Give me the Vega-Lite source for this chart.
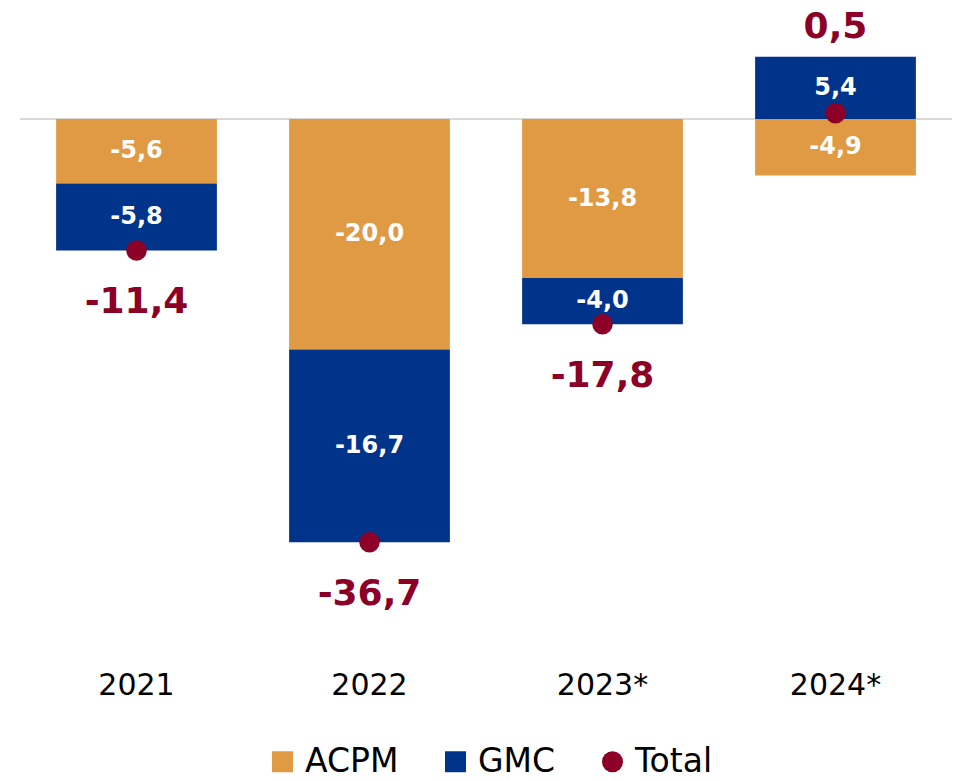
{
  "$schema": "https://vega.github.io/schema/vega-lite/v6.json",
  "width": 932,
  "height": 640,
  "autosize": {"type": "none"},
  "padding": {"left": 20, "top": 10, "right": 5, "bottom": 130},
  "background": "white",
  "config": {
    "view": {"stroke": null},
    "font": "DejaVu Sans",
    "locale": {"number": {"decimal": ",", "thousands": ".", "grouping": [3], "currency": ["", " €"], "minus": "-"}}
  },
  "datasets": {
    "parts": [
      {"year": "2021", "series": "ACPM", "value": -5.6},
      {"year": "2021", "series": "GMC", "value": -5.8},
      {"year": "2022", "series": "ACPM", "value": -20.0},
      {"year": "2022", "series": "GMC", "value": -16.7},
      {"year": "2023*", "series": "ACPM", "value": -13.8},
      {"year": "2023*", "series": "GMC", "value": -4.0},
      {"year": "2024*", "series": "ACPM", "value": -4.9},
      {"year": "2024*", "series": "GMC", "value": 5.4}
    ],
    "totals": [
      {"year": "2021", "series": "Total", "value": -11.4},
      {"year": "2022", "series": "Total", "value": -36.7},
      {"year": "2023*", "series": "Total", "value": -17.8},
      {"year": "2024*", "series": "Total", "value": 0.5}
    ]
  },
  "encoding": {
    "x": {
      "field": "year", "type": "nominal", "sort": ["2021", "2022", "2023*", "2024*"],
      "scale": {"paddingInner": 0.31, "paddingOuter": 0.155},
      "axis": {"title": null, "domain": false, "ticks": false, "labelAngle": 0, "labelFontSize": 30, "labelColor": "#000000", "labelPadding": 20, "labelFont": "DejaVu Sans"}
    }
  },
  "layer": [
    {
      "data": {"values": [{}]},
      "mark": {"type": "rule", "color": "#D9D9D9", "strokeWidth": 2},
      "encoding": {"x": null, "y": {"datum": 0, "type": "quantitative", "scale": {"domain": [-46.05, 9.45], "nice": false, "zero": false}, "axis": null}}
    },
    {
      "data": {"name": "parts"},
      "transform": [
        {"stack": "value", "groupby": ["year"], "sort": [{"field": "series", "order": "ascending"}], "as": ["v0", "v1"]},
        {"calculate": "(datum.v0 + datum.v1) / 2", "as": "mid"}
      ],
      "layer": [
        {
          "mark": {"type": "bar"},
          "encoding": {
            "y": {"field": "v0", "type": "quantitative", "axis": null},
            "y2": {"field": "v1"},
            "color": {
              "field": "series", "type": "nominal",
              "scale": {"domain": ["ACPM", "GMC", "Total"], "range": ["#E09A43", "#00338A", "#8C0027"]},
              "legend": {
                "title": null, "orient": "none", "direction": "horizontal", "legendX": 246, "legendY": 735,
                "labelFontSize": 33, "labelColor": "#000000", "symbolSize": 440, "symbolStrokeWidth": 0,
                "columnPadding": 40, "labelOffset": 6, "labelFont": "DejaVu Sans"
              }
            }
          }
        },
        {
          "mark": {"type": "text", "color": "white", "fontWeight": "bold", "fontSize": 24, "baseline": "middle"},
          "encoding": {
            "y": {"field": "mid", "type": "quantitative"},
            "text": {"field": "value", "type": "quantitative", "format": ".1f"}
          }
        }
      ]
    },
    {
      "data": {"name": "totals"},
      "layer": [
        {
          "mark": {"type": "point", "filled": true, "opacity": 1, "size": 420},
          "encoding": {
            "y": {"field": "value", "type": "quantitative"},
            "color": {"field": "series", "type": "nominal"},
            "shape": {"field": "series", "type": "nominal", "scale": {"domain": ["ACPM", "GMC", "Total"], "range": ["square", "square", "circle"]}}
          }
        },
        {
          "transform": [{"filter": "datum.value < 0"}],
          "mark": {"type": "text", "color": "#8C0027", "fontWeight": "bold", "fontSize": 36, "baseline": "middle", "dy": 52},
          "encoding": {
            "y": {"field": "value", "type": "quantitative"},
            "text": {"field": "value", "type": "quantitative", "format": ".1f"}
          }
        },
        {
          "transform": [{"filter": "datum.value >= 0"}],
          "mark": {"type": "text", "color": "#8C0027", "fontWeight": "bold", "fontSize": 36, "baseline": "middle", "dy": -86},
          "encoding": {
            "y": {"field": "value", "type": "quantitative"},
            "text": {"field": "value", "type": "quantitative", "format": ".1f"}
          }
        }
      ]
    }
  ]
}
